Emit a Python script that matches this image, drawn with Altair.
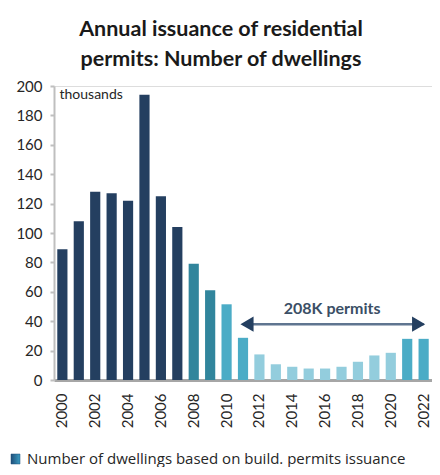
import altair as alt
import pandas as pd

# ---- data ----
years = list(range(2000, 2023))
dwellings = [89, 108, 128, 127, 122, 194, 125, 104, 79, 61, 51.5, 28.7, 17.4,
             10.7, 9, 7.8, 7.8, 9, 12.4, 16.7, 18.5, 28, 28]
phase = ["boom"] * 8 + ["slide"] * 2 + ["mid"] * 2 + ["trough"] * 9 + ["mid"] * 2
phase_names = ["boom", "slide", "mid", "trough"]
phase_colors = ["#243F60", "#31859C", "#4BACC6", "#93CDDD"]

arrow_years = [2011, 2022]
arrow_level = 38
arrow_label = "208K permits"
arrow_label_year = 2016
arrow_label_level = 48.6

y_ticks = list(range(0, 201, 20))
x_label_years = list(range(2000, 2023, 2))

title_lines = ["Annual issuance of residential", "permits: Number of dwellings"]
legend_label = "Number of dwellings based on build. permits issuance"

df = pd.DataFrame({"year": years, "value": dwellings, "phase": phase})
arrow_df = pd.DataFrame({"year": arrow_years, "value": [arrow_level] * 2})
label_df = pd.DataFrame({"year": [arrow_label_year], "value": [arrow_label_level],
                         "text": [arrow_label]})

W, H = 378, 294
FONT = "Lato"

xscale = alt.Scale(domain=years, paddingInner=0.38, paddingOuter=0.2)
yscale = alt.Scale(domain=[0, 200])

X = alt.X("year:O", scale=xscale,
          axis=alt.Axis(values=x_label_years, labelAngle=-90, ticks=False,
                        domainColor="#A6A6A6", domainWidth=3,
                        labelFontSize=15, labelColor="#262626",
                        labelPadding=13, labelFont=FONT, title=None,
                        labelAlign="right", labelBaseline="middle",
                        labelOverlap=False))
Y = alt.Y("value:Q", scale=yscale,
          axis=alt.Axis(values=y_ticks, grid=False, domainColor="#BFBFBF",
                        domainWidth=2, tickColor="#BFBFBF", tickWidth=2,
                        tickSize=4, labelFontSize=15, labelColor="#262626",
                        labelPadding=8, labelFont=FONT, labelOverlap=False,
                        title="thousands", titleAngle=0, titleAlign="left",
                        titleBaseline="middle", titleX=5, titleY=8,
                        titleFontSize=14, titleFontWeight="normal",
                        titleColor="#262626", titleFont=FONT))

bars = alt.Chart(df).mark_bar().encode(
    color=alt.Color("phase:N", scale=alt.Scale(domain=phase_names, range=phase_colors),
                    legend=None),
)

arrow_line = alt.Chart(arrow_df).mark_line(color="#5F7590", strokeWidth=2.5)
left_head = alt.Chart(arrow_df[arrow_df.year == arrow_years[0]]).mark_point(
    shape="triangle-left", filled=True, color="#243F60", size=230, opacity=1,
    xOffset=4)
right_head = alt.Chart(arrow_df[arrow_df.year == arrow_years[1]]).mark_point(
    shape="triangle-right", filled=True, color="#243F60", size=230, opacity=1,
    xOffset=-5)
label = alt.Chart(label_df).mark_text(
    font=FONT, fontSize=16, fontWeight="bold", color="#3B4F66", dx=7,
    baseline="middle").encode(text="text:N")

main = alt.layer(bars, arrow_line, left_head, right_head, label).encode(x=X, y=Y)

legend_swatch = alt.Chart(pd.DataFrame({"t": [legend_label]})).mark_rect(
    color=alt.Gradient(gradient="linear",
                       stops=[alt.GradientStop(color="#1F4E79", offset=0),
                              alt.GradientStop(color="#3A9BC1", offset=1)],
                       x1=0, x2=1, y1=0, y2=0),
    stroke="#1F4E79", strokeWidth=0.5).encode(
    x=alt.value(-43), x2=alt.value(-34), y=alt.value(368), y2=alt.value(378))
legend_text = alt.Chart(pd.DataFrame({"t": [legend_label]})).mark_text(
    font="Open Sans", fontSize=15, color="#262626", align="left",
    baseline="middle").encode(x=alt.value(-27), y=alt.value(373), text="t:N")

chart = alt.layer(main, legend_swatch, legend_text).properties(
    width=W, height=H,
    autosize=alt.AutoSizeParams(type="none"),
    padding={"left": 46, "top": 78, "right": 0, "bottom": 87},
    title=alt.TitleParams(text=title_lines, font=FONT, fontSize=21.5, fontWeight="bold",
                          color="#1A1A1A", lineHeight=30, anchor="middle", dx=-22,
                          offset=9),
).configure_view(stroke=None).configure(font=FONT, background="white"
).configure_axis(labelOverlap=False)

chart.save("out.html", embed_options={"renderer": "svg", "actions": False})
